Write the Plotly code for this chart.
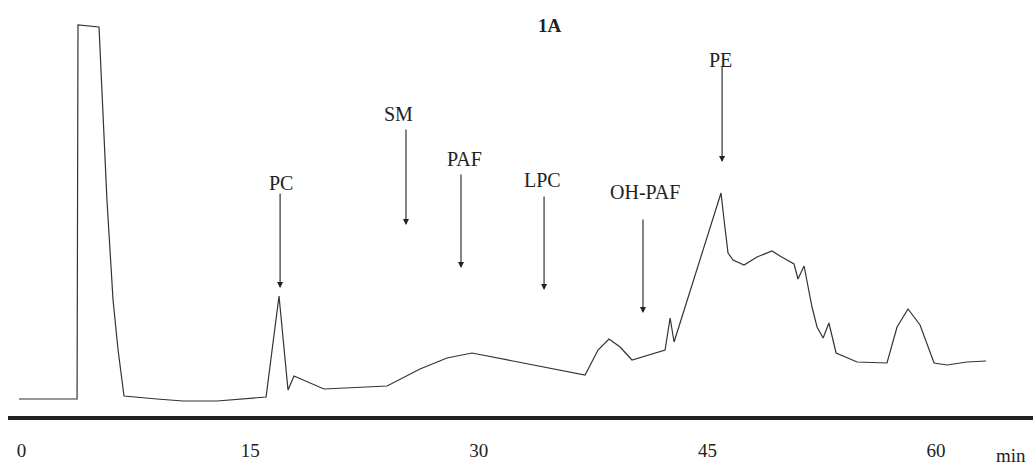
import plotly.graph_objects as go

# Retention time (min) and detector response (arbitrary units)
time_min = [-0.17, 3.64, 3.70, 5.08, 5.60, 6.00, 6.33, 6.72, 8.88, 10.59, 12.82, 14.33,
            16.04, 16.89, 17.48, 17.87, 19.84, 23.98, 26.14, 27.91, 29.55, 32.24,
            36.97, 37.82, 38.54, 39.27, 40.05, 42.22, 42.55, 42.81, 45.89, 46.09,
            46.35, 46.68, 47.40, 48.25, 49.24, 49.76, 50.68, 50.94, 51.34, 51.86,
            52.19, 52.59, 52.97, 53.44, 54.82, 56.78, 57.44, 58.16, 58.95, 59.87,
            60.72, 62.03, 63.28]
signal = [19, 19, 393, 391, 218, 118, 68, 22, 19, 17, 17, 19,
          21, 122, 28, 42, 29, 32, 49, 60, 65, 57,
          43, 68, 79, 71, 58, 68, 100, 76, 225, 198,
          165, 158, 153, 161, 167, 162, 154, 139, 152, 111,
          91, 80, 95, 65, 56, 55, 91, 109, 93, 55,
          53, 56, 57]

tick_values = [0, 15, 30, 45, 60]
tick_labels = ["0", "15", "30", "45", "60"]

peak_names = ["PC", "SM", "PAF", "LPC", "OH-PAF", "PE"]
peak_times = [16.96, 25.22, 28.83, 34.28, 40.77, 45.96]

# arrow head / tail heights and label placement (layout)
arrow_head = [130, 193, 150, 128, 105, 256]
arrow_tail = [226, 290, 245, 223, 200, 353]
label_x = [17.02, 24.76, 29.03, 34.18, 40.90, 45.83]
label_y = [235, 304, 259, 238, 226, 358]

FONT = "Liberation Serif"
INK = "#222222"

fig = go.Figure()
fig.add_trace(go.Scatter(
    x=time_min, y=signal, mode="lines",
    line=dict(color="#333333", width=1.2),
    hoverinfo="skip", showlegend=False,
))

annotations = []
for name, t, h, tl, lx, ly in zip(peak_names, peak_times, arrow_head, arrow_tail, label_x, label_y):
    annotations.append(dict(
        x=t, y=h, ax=t, ay=tl, xref="x", yref="y", axref="x", ayref="y",
        text="", showarrow=True, arrowhead=2, arrowsize=1.1, arrowwidth=1.1,
        arrowcolor=INK, standoff=0, startstandoff=0,
    ))
    annotations.append(dict(
        x=lx, y=ly, xref="x", yref="y", text=name, showarrow=False,
        font=dict(family=FONT, size=20, color=INK),
        xanchor="center", yanchor="middle",
    ))

annotations.append(dict(
    x=(1011 - 8) / 1025, y=(416 - 455) / 416, xref="paper", yref="paper",
    text="min", showarrow=False,
    font=dict(family=FONT, size=19, color=INK), xanchor="center", yanchor="middle",
))

fig.update_layout(
    width=1033, height=468,
    margin=dict(l=8, r=0, t=0, b=52),
    paper_bgcolor="white", plot_bgcolor="white",
    title=dict(text="<b>1A</b>", x=0.532, xanchor="center", y=1 - 25 / 468, yanchor="middle",
               font=dict(family=FONT, size=19, color=INK)),
    annotations=annotations,
    xaxis=dict(range=[-0.892, 66.36], showgrid=False, zeroline=False,
               showline=True, linewidth=4, linecolor=INK,
               tickvals=tick_values, ticktext=tick_labels, ticks="",
               ticklabelstandoff=14,
               tickfont=dict(family=FONT, size=19, color=INK), fixedrange=True),
    yaxis=dict(range=[2, 418], visible=False, fixedrange=True),
)

fig.write_html("out.html")
